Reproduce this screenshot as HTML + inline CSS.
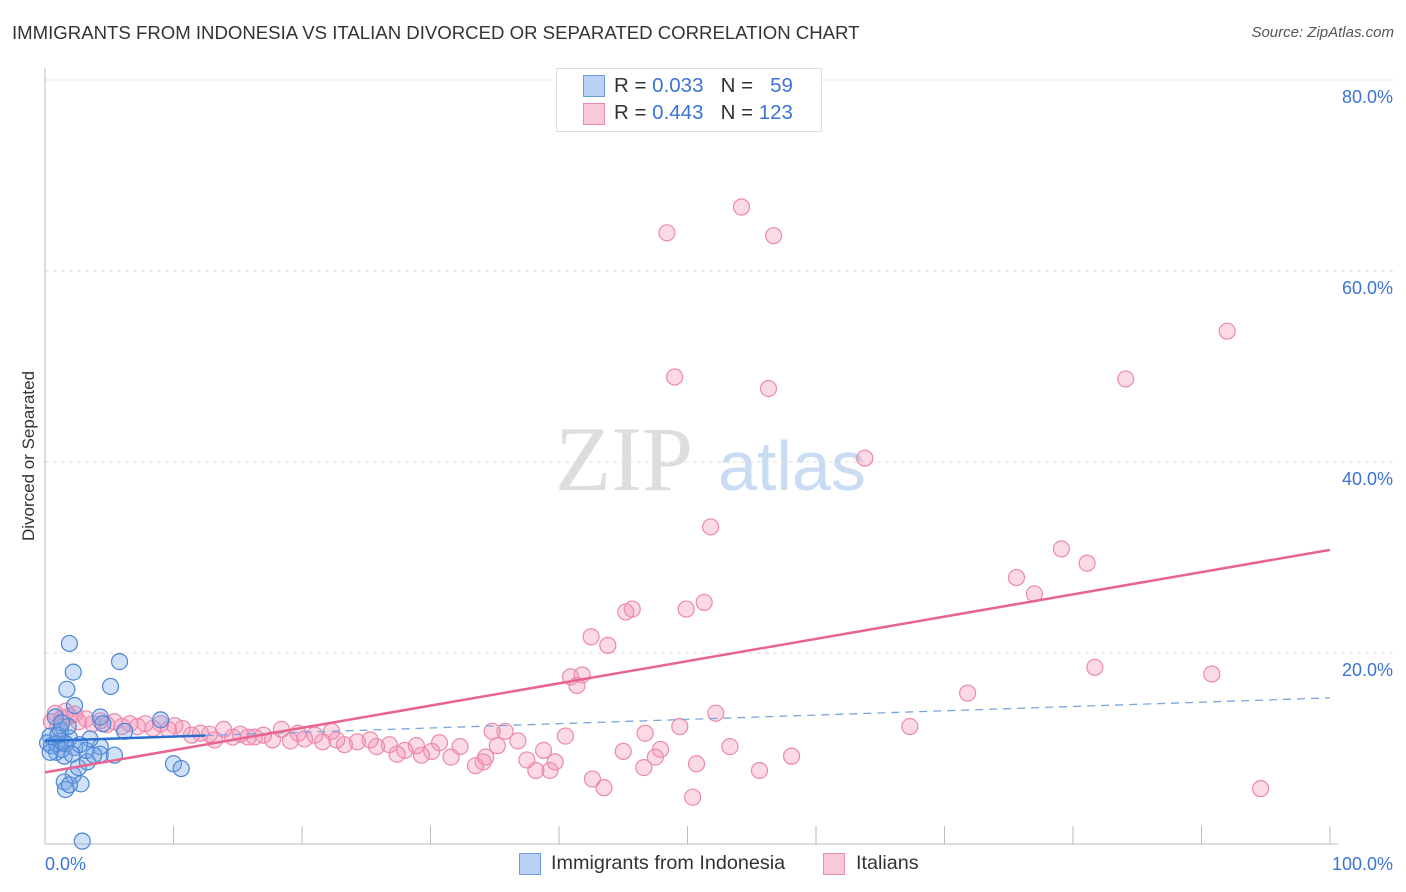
<!DOCTYPE html>
<html><head><meta charset="utf-8"><style>
body{margin:0;background:#fff;font-family:"Liberation Sans",sans-serif}
#wrap{position:relative;width:1406px;height:892px;overflow:hidden}
.t{position:absolute;white-space:nowrap}
</style></head><body>
<div id="wrap">
<div class="t" style="left:12px;top:22px;font-size:18.6px;color:#333">IMMIGRANTS FROM INDONESIA VS ITALIAN DIVORCED OR SEPARATED CORRELATION CHART</div>
<div class="t" style="right:12px;top:24px;font-size:15px;color:#555;font-style:italic">Source: ZipAtlas.com</div>
<svg id="svg" width="1406" height="892" style="position:absolute;left:0;top:0"></svg>
</div>
<script>
const yTicks=[20,40,60,80];
const xTickLabels=["0.0%","100.0%"];
const blueX=[1.9,2.2,1.7,2.3,5.8,5.1,9.0,10.0,10.6,2.9,2.2,1.5,2.8,1.6,1.9,2.6,3.3,4.3,5.4,4.3,3.2,1.9,1.2,0.5,0.9,1.5,2.3,0.4,1.2,1.8,0.8,4.3,6.2,4.5,3.5,2.7,0.2,1.3,0.9,1.6,2.1,3.8,1.0,1.3,0.4];
const blueY=[21.0,18.0,16.2,14.5,19.1,16.5,13.0,8.4,7.9,0.3,7.2,6.5,6.3,5.7,6.2,8.0,8.6,9.4,9.3,10.2,9.8,11.1,10.8,10.3,9.6,9.2,10.1,11.3,11.9,12.3,13.3,13.3,11.8,12.6,11.0,10.4,10.6,9.9,10.5,10.5,9.4,9.3,11.4,12.7,9.6];
const pinkX=[54.2,48.4,56.7,92.0,49.0,56.3,84.1,63.8,51.8,79.1,81.1,75.6,77.0,51.3,49.9,45.7,45.2,42.5,43.8,40.9,41.8,41.4,81.7,90.8,71.8,52.2,67.3,94.6,50.4,43.5,42.6,55.6,58.1,50.7,53.3,49.4,46.7,47.9,47.5,46.6,45.0,40.5,39.3,39.7,38.8,38.2,37.5,36.8,35.8,35.2,34.8,34.1,33.5,34.3,32.3,31.6,30.7,30.1,29.3,28.9,28.0,27.4,26.8,25.8,25.3,24.3,23.3,22.7,22.3,21.6,21.0,20.2,19.7,19.1,18.4,17.7,17.0,16.3,15.8,15.2,14.6,13.9,13.2,12.8,12.1,11.4,10.7,10.1,9.6,9.0,8.4,7.8,7.2,6.6,6.0,5.4,4.8,4.3,3.7,3.2,2.6,1.9,1.3,0.8,0.5,1.0,1.6,2.3];
const pinkY=[66.7,64.0,63.7,53.7,48.9,47.7,48.7,40.4,33.2,30.9,29.4,27.9,26.2,25.3,24.6,24.6,24.3,21.7,20.8,17.5,17.7,16.6,18.5,17.8,15.8,13.7,12.3,5.8,4.9,5.9,6.8,7.7,9.2,8.4,10.2,12.3,11.6,9.9,9.1,8.0,9.7,11.3,7.7,8.6,9.8,7.7,8.8,10.8,11.8,10.3,11.8,8.6,8.2,9.1,10.2,9.1,10.6,9.7,9.3,10.3,9.8,9.4,10.4,10.2,10.9,10.7,10.4,10.9,11.8,10.7,11.4,11.0,11.6,10.8,12.0,10.9,11.4,11.2,11.2,11.5,11.2,12.0,10.9,11.5,11.6,11.4,12.1,12.4,12.0,12.6,12.1,12.6,12.3,12.6,12.3,12.8,12.5,12.9,12.6,13.1,12.8,13.4,13.2,13.7,12.8,12.3,13.9,13.6];
const blueTrend=[[0,10.8],[100,15.3]];
const pinkTrend=[[0,7.5],[100,30.8]];
const X0=45,X1=1330,Y0=844,PX=9.55;
const xs=v=>X0+v/100*(X1-X0), ys=v=>Y0-v*PX;
const svg=document.getElementById('svg');const NS='http://www.w3.org/2000/svg';
function mk(tag,attrs,parent){const e=document.createElementNS(NS,tag);for(const k in attrs)e.setAttribute(k,attrs[k]);(parent||svg).appendChild(e);return e;}
let w=mk('text',{x:555,y:490,'font-size':92,fill:'#ddd','font-family':'Liberation Serif'});w.textContent='ZIP';


let w2=mk('text',{x:718,y:490,'font-size':70,fill:'#c9dcf3','font-family':'Liberation Sans'});w2.textContent='atlas';


yTicks.forEach(v=>{
 const g=mk('line',{x1:X0,x2:1395,y1:ys(v),y2:ys(v),stroke:'#ddd','stroke-dasharray':'4,4'});
 
 
 const t=mk('text',{x:1393,y:ys(v)+23,'text-anchor':'end','font-size':18,fill:'#3b74d6'});t.textContent=v.toFixed(1)+'%';
 
 
});
let ax=mk('line',{x1:X0,x2:X1+8,y1:Y0,y2:Y0,stroke:'#bbb'});


let ay=mk('line',{x1:X0,x2:X0,y1:68,y2:Y0,stroke:'#bbb'});


for(let i=1;i<=10;i++){const tk=mk('line',{x1:xs(i*10),x2:xs(i*10),y1:826,y2:Y0,stroke:'#bbb'});
 
 }
let xl0=mk('text',{x:45,y:870,'font-size':18,fill:'#3b74d6'});xl0.textContent=xTickLabels[0];


let xl1=mk('text',{x:1393,y:870,'text-anchor':'end','font-size':18,fill:'#3b74d6'});xl1.textContent=xTickLabels[1];


let yt=mk('text',{x:34,y:456,'font-size':17,fill:'#333','text-anchor':'middle',transform:'rotate(-90 34 456)'});yt.textContent='Divorced or Separated';


pinkX.forEach((x,i)=>{const c=mk('circle',{cx:xs(x),cy:ys(pinkY[i]),r:8,fill:'rgba(244,150,182,0.35)',stroke:'#ec89ab','stroke-width':1.2});
 
 });
blueX.forEach((x,i)=>{const c=mk('circle',{cx:xs(x),cy:ys(blueY[i]),r:8,fill:'rgba(120,165,230,0.35)',stroke:'#4a86d8','stroke-width':1.2});
 
 });
const bs=blueTrend[0],be=blueTrend[1],bm=12.5;
const bmy=bs[1]+(be[1]-bs[1])*bm/100;
let bl1=mk('line',{x1:xs(bs[0]),y1:ys(bs[1]),x2:xs(bm),y2:ys(bmy),stroke:'#2a6fd0','stroke-width':2.5});


let bl2=mk('line',{x1:xs(bm),y1:ys(bmy),x2:xs(be[0]),y2:ys(be[1]),stroke:'#7aa6de','stroke-width':1.3,'stroke-dasharray':'8,6'});


let pl=mk('line',{x1:xs(pinkTrend[0][0]),y1:ys(pinkTrend[0][1]),x2:xs(pinkTrend[1][0]),y2:ys(pinkTrend[1][1]),stroke:'#e8648f','stroke-width':2.5});


</script>
<div class="t" style="left:556px;top:68px;width:264px;height:62px;border:1px solid #ddd;background:#fff;font-size:20.5px">
 <div class="t" style="left:26px;top:6px;width:20px;height:20px;background:#b9d2f5;border:1px solid #6d9be0"></div>
 <div class="t" style="left:57px;top:5px;color:#333">R = <span style="color:#3b74d6">0.033</span>&nbsp;&nbsp;&nbsp;N = &nbsp;&nbsp;<span style="color:#3b74d6">59</span></div>
 <div class="t" style="left:26px;top:34px;width:20px;height:20px;background:#f9c9d8;border:1px solid #ec89ab"></div>
 <div class="t" style="left:57px;top:32px;color:#333">R = <span style="color:#3b74d6">0.443</span>&nbsp;&nbsp;&nbsp;N = <span style="color:#3b74d6">123</span></div>
</div>
<div class="t" style="left:519px;top:853px;width:20px;height:20px;background:#b9d2f5;border:1px solid #6d9be0"></div>
<div class="t" style="left:551px;top:852px;font-size:19.8px;color:#333">Immigrants from Indonesia</div>
<div class="t" style="left:823px;top:853px;width:20px;height:20px;background:#f9c9d8;border:1px solid #ec89ab"></div>
<div class="t" style="left:856px;top:852px;font-size:19.8px;color:#333">Italians</div>
</body></html>
